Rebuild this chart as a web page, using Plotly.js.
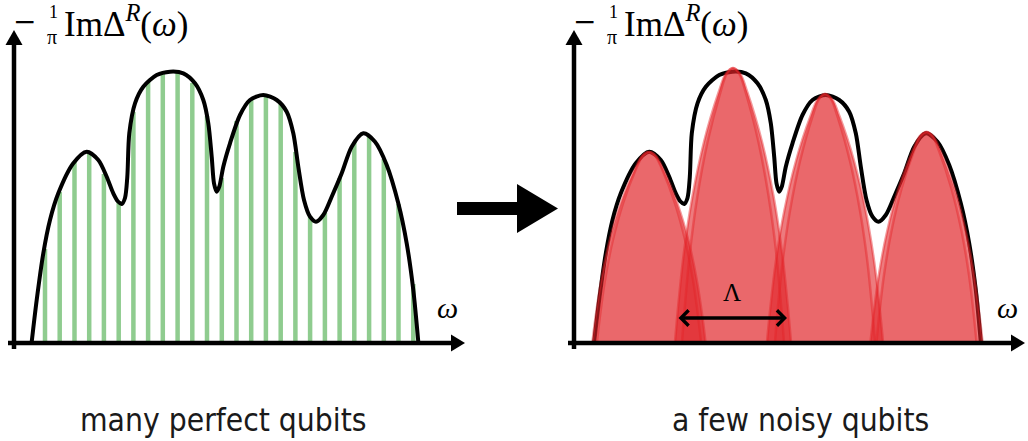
<!DOCTYPE html>
<html><head><meta charset="utf-8">
<script src="https://cdn.plot.ly/plotly-3.0.1.min.js"></script>
<style>html,body{margin:0;padding:0;background:#fff}</style>
</head><body><div id="chart" style="width:1028px;height:441px"></div>
<script>
// ---- spectral function ----
const curveOmega = [17.7, 22.7, 29.3, 36, 44.3, 59.3, 72.7, 84.3, 92.7, 99.3, 104, 107.7, 111, 113.3, 115.3, 121, 129.3, 142.7, 156, 169.3, 181, 189.3, 194.3, 197.7, 200, 202.7, 205.3, 209.3, 216, 226, 236, 249.3, 262.7, 272.7, 279.3, 284.3, 290, 296, 302, 309.3, 317.7, 327.7, 337.7, 349.3, 361, 372.7, 384.3, 392.7, 399.3, 404.3];
const curveValue = [0, 42, 88.7, 122, 148.7, 178.7, 190.3, 182, 165.3, 148.7, 140.5, 138, 144, 165, 208.7, 238.7, 255.3, 267, 270.3, 268.7, 258.7, 242, 218.7, 185.3, 158.7, 150.3, 155.3, 175.3, 198.7, 227, 242, 247, 242, 230.3, 208.7, 175.3, 142, 125.3, 120.3, 127, 145.3, 168.7, 195.3, 208.7, 200.3, 177, 138.7, 98.7, 52, 0];

// ---- many perfect qubits (green lines) ----
const qubitOmega = [31, 45.7, 60.5, 75.2, 89.9, 104.7, 119.4, 134.1, 148.8, 163.6, 178.3, 193.0, 207.8, 222.5, 237.2, 251.9, 266.7, 281.4, 296.1, 310.9, 325.6, 340.3, 355.1, 369.8, 384.5, 399.3];
const qubitWeight = [93, 150, 180, 189, 168, 141, 230, 261, 268, 269, 259, 226, 164, 221, 243, 246, 238, 190, 126, 129, 164, 200, 205, 183, 138, 58];

// ---- a few noisy qubits (red lobes; outer and inner outline of each) ----
const lobe1OuterOmega = [16.0, 18.8, 24.5, 32.9, 44.2, 58.4, 65.7, 72.5, 79.3, 86.6, 100.8, 112.1, 120.5, 126.2, 129.0];
const lobe1InnerOmega = [20.5, 23.1, 28.3, 36.1, 46.5, 59.5, 66.3, 72.5, 78.7, 85.5, 98.5, 108.9, 116.7, 121.9, 124.5];
const lobe1Value = [0, 22.8, 60.8, 100.7, 138.7, 172.9, 186.2, 190, 186.2, 172.9, 138.7, 100.7, 60.8, 22.8, 0];
const lobe2OuterOmega = [98.5, 101.4, 107.2, 115.9, 127.5, 142.0, 149.5, 156.5, 163.5, 171.0, 185.5, 197.1, 205.8, 211.6, 214.5];
const lobe2InnerOmega = [105.5, 108.1, 113.2, 120.8, 131.0, 143.8, 150.4, 156.5, 162.6, 169.3, 182.0, 192.2, 199.9, 204.9, 207.5];
const lobe2Value = [0, 32.9, 87.7, 145.2, 200.0, 249.3, 268.5, 274, 268.5, 249.3, 200.0, 145.2, 87.7, 32.9, 0];
const lobe3OuterOmega = [190.5, 193.4, 199.2, 207.9, 219.5, 234.0, 241.5, 248.5, 255.5, 263.0, 277.5, 289.1, 297.8, 303.6, 306.5];
const lobe3InnerOmega = [198.5, 201.0, 206.0, 213.5, 223.5, 236.0, 242.5, 248.5, 254.5, 261.0, 273.5, 283.5, 291.0, 296.0, 298.5];
const lobe3Value = [0, 29.8, 79.4, 131.4, 181.0, 225.7, 243.0, 248, 243.0, 225.7, 181.0, 131.4, 79.4, 29.8, 0];
const lobe4OuterOmega = [294.0, 296.8, 302.4, 310.8, 322.0, 336.0, 343.3, 350.0, 356.7, 364.0, 378.0, 389.2, 397.6, 403.2, 406.0];
const lobe4InnerOmega = [300.0, 302.5, 307.5, 315.0, 325.0, 337.5, 344.0, 350.0, 356.0, 362.5, 375.0, 385.0, 392.5, 397.5, 400.0];
const lobe4Value = [0, 25.2, 67.2, 111.3, 153.3, 191.1, 205.8, 210, 205.8, 191.1, 153.3, 111.3, 67.2, 25.2, 0];

// Lambda (lobe spacing) arrow ends
const lambdaOmega = [100.5, 210.5];
const lambdaLevel = 24;

// ---- text ----
const panelLabels = ['many perfect qubits', 'a few noisy qubits'];

// ---------------------------------------------------------------
const W = 1028, H = 441;
const px = x => x / W, py = y => 1 - y / H;
const pt = (x, y) => px(x) + ',' + py(y);

const traces = [];
// left panel
traces.push({type: 'scatter', mode: 'lines', x: curveOmega, y: curveValue, xaxis: 'x', yaxis: 'y',
  line: {color: '#000', width: 4, shape: 'spline', smoothing: 0.8}, hoverinfo: 'skip'});
traces.push({type: 'bar', x: qubitOmega, y: qubitWeight, xaxis: 'x', yaxis: 'y', width: 4.5,
  marker: {color: 'rgba(68,170,68,0.6)', line: {width: 0}}, hoverinfo: 'skip'});
// right panel
traces.push({type: 'scatter', mode: 'lines', x: curveOmega, y: curveValue, xaxis: 'x2', yaxis: 'y2',
  line: {color: '#000', width: 4, shape: 'spline', smoothing: 0.8}, hoverinfo: 'skip'});
const lobes = [
  [lobe1OuterOmega, lobe1Value, 0.6], [lobe1InnerOmega, lobe1Value, 0.22],
  [lobe2OuterOmega, lobe2Value, 0.6], [lobe2InnerOmega, lobe2Value, 0.22],
  [lobe3OuterOmega, lobe3Value, 0.6], [lobe3InnerOmega, lobe3Value, 0.22],
  [lobe4OuterOmega, lobe4Value, 0.6], [lobe4InnerOmega, lobe4Value, 0.22]
];
lobes.forEach(([xs, ys, a]) => traces.push({type: 'scatter', mode: 'lines', x: xs, y: ys,
  xaxis: 'x2', yaxis: 'y2', fill: 'toself', fillcolor: 'rgba(225,35,40,' + a + ')',
  line: {color: 'rgba(228,35,40,0.45)', width: 2.5, shape: 'spline', smoothing: 1}, hoverinfo: 'skip'}));

const ax = {visible: false, fixedrange: true, showgrid: false, zeroline: false};
const ydom = [py(342), py(30)];

const shapes = [];
function axisArrows(x0) {
  shapes.push({type: 'line', xref: 'paper', yref: 'paper', x0: px(x0), y0: py(349), x1: px(x0), y1: py(44),
    line: {color: '#000', width: 4.5}});
  shapes.push({type: 'path', xref: 'paper', yref: 'paper',
    path: 'M' + pt(x0 - 8.5, 45) + 'L' + pt(x0 + 8.5, 45) + 'L' + pt(x0, 30) + 'Z',
    fillcolor: '#000', line: {width: 0}});
  shapes.push({type: 'line', xref: 'paper', yref: 'paper', x0: px(x0 - 6), y0: py(343), x1: px(x0 + 438), y1: py(343),
    line: {color: '#000', width: 4.5}});
  shapes.push({type: 'path', xref: 'paper', yref: 'paper',
    path: 'M' + pt(x0 + 437, 334.5) + 'L' + pt(x0 + 437, 351.5) + 'L' + pt(x0 + 451, 343) + 'Z',
    fillcolor: '#000', line: {width: 0}});
}
axisArrows(14);
axisArrows(574);
// big transition arrow
shapes.push({type: 'path', xref: 'paper', yref: 'paper',
  path: 'M' + pt(457, 202) + 'L' + pt(517, 202) + 'L' + pt(517, 184) + 'L' + pt(558, 208.5) +
        'L' + pt(517, 233) + 'L' + pt(517, 215) + 'L' + pt(457, 215) + 'Z',
  fillcolor: '#000', line: {width: 0}});

const serif = 'Liberation Serif, Times New Roman, serif';
const annotations = [];
function yLabel(dx) {
  annotations.push({xref: 'paper', yref: 'paper', x: px(24.5 + dx), y: py(22), text: '−', showarrow: false,
    xanchor: 'center', yanchor: 'middle', font: {family: 'DejaVu Serif', size: 28, color: '#000'}});
  annotations.push({xref: 'paper', yref: 'paper', x: px(53.5 + dx), y: py(12), text: '1', showarrow: false,
    xanchor: 'center', yanchor: 'middle', font: {family: serif, size: 18, color: '#000'}});
  annotations.push({xref: 'paper', yref: 'paper', x: px(52 + dx), y: py(37), text: 'π', showarrow: false,
    xanchor: 'center', yanchor: 'middle', font: {family: serif, size: 20, color: '#000'}});
  annotations.push({xref: 'paper', yref: 'paper', x: px(62 + dx), y: py(22), text: 'ImΔ<sup><i>R</i></sup>(<i>ω</i>)',
    showarrow: false, xanchor: 'left', yanchor: 'middle', font: {family: serif, size: 35, color: '#000'}});
  annotations.push({xref: 'paper', yref: 'paper', x: px(447 + dx), y: py(307), text: '<i>ω</i>', showarrow: false,
    xanchor: 'center', yanchor: 'middle', font: {family: serif, size: 30, color: '#000'}});
}
yLabel(0);
yLabel(560);
annotations.push({xref: 'x2', yref: 'y2', axref: 'x2', ayref: 'y2', x: lambdaOmega[1], y: lambdaLevel,
  ax: lambdaOmega[0], ay: lambdaLevel, text: '', showarrow: true, arrowside: 'end+start',
  arrowhead: 4, startarrowhead: 4, arrowsize: 0.85, startarrowsize: 0.85, arrowwidth: 3.5,
  arrowcolor: '#000', standoff: 0, startstandoff: 0});
annotations.push({xref: 'x2', yref: 'y2', x: (lambdaOmega[0] + lambdaOmega[1]) / 2, y: 50, text: 'Λ',
  showarrow: false, xanchor: 'center', yanchor: 'middle', font: {family: serif, size: 25, color: '#000'}});
const sans = 'DejaVu Sans Condensed, DejaVu Sans, sans-serif';
annotations.push({xref: 'paper', yref: 'paper', x: px(223), y: py(420), text: panelLabels[0], showarrow: false,
  xanchor: 'center', yanchor: 'middle', font: {family: sans, size: 31.5, color: '#1a1a1a'}});
annotations.push({xref: 'paper', yref: 'paper', x: px(800), y: py(420), text: panelLabels[1], showarrow: false,
  xanchor: 'center', yanchor: 'middle', font: {family: sans, size: 31.5, color: '#1a1a1a'}});

const layout = {
  width: W, height: H, margin: {l: 0, r: 0, t: 0, b: 0},
  paper_bgcolor: '#fff', plot_bgcolor: 'rgba(0,0,0,0)', showlegend: false, barmode: 'overlay',
  xaxis: Object.assign({domain: [px(14), px(470)], range: [0, 456], anchor: 'y'}, ax),
  yaxis: Object.assign({domain: ydom, range: [0, 312], anchor: 'x'}, ax),
  xaxis2: Object.assign({domain: [px(574), 1], range: [-2.5, 451.5], anchor: 'y2'}, ax),
  yaxis2: Object.assign({domain: ydom, range: [0, 312], anchor: 'x2'}, ax),
  shapes: shapes, annotations: annotations
};
Plotly.newPlot('chart', traces, layout, {displayModeBar: false, staticPlot: true});
</script></body></html>
